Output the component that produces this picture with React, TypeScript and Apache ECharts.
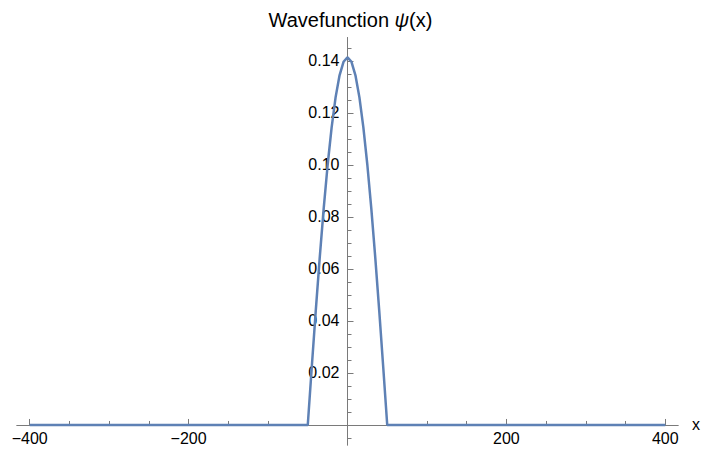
import React, { useEffect, useRef } from "react";
import * as echarts from "echarts";

const xValues = [-400, -50, -45, -40, -35, -30, -25, -20, -15, -10, -5, 0, 5, 10, 15, 20, 25, 30, 35, 40, 45, 50, 400];
const psiValues = [0, 0, 0.0221, 0.0437, 0.0642, 0.0831, 0.1, 0.1144, 0.126, 0.1345, 0.1397, 0.1414, 0.1397, 0.1345, 0.126, 0.1144, 0.1, 0.0831, 0.0642, 0.0437, 0.0221, 0, 0];

const xMajorTicks = [-400, -200, 200, 400];
const xMinorTicks = [-350, -300, -250, -150, -100, -50, 50, 100, 150, 250, 300, 350];
const yMajorTicks = [0.02, 0.04, 0.06, 0.08, 0.1, 0.12, 0.14];
const yMinorTicks = [-0.005, 0.005, 0.01, 0.015, 0.025, 0.03, 0.035, 0.045, 0.05, 0.055, 0.065, 0.07, 0.075, 0.085, 0.09, 0.095, 0.105, 0.11, 0.115, 0.125, 0.13, 0.135, 0.145];

const FONT = "'Liberation Sans', Arial, Helvetica, sans-serif";
const AXIS_COLOR = "#7a7a7a";
const LINE_COLOR = "#5E81B5";

export default function App() {
  const ref = useRef<HTMLDivElement>(null);
  useEffect(() => {
    if (!ref.current) return;
    const chart = echarts.init(ref.current, undefined, { renderer: "svg" });
    const W = 701, H = 450;
    const gLeft = 17, gRight = 23, gTop = 37.6, gBottom = 5;
    const xMin = -416, xMax = 416, yMin = -0.0077, yMax = 0.149;
    const gW = W - gLeft - gRight;
    const gH = H - gTop - gBottom;
    const zeroX = gLeft + ((0 - xMin) / (xMax - xMin)) * gW;
    const zeroY = gTop + ((yMax - 0) / (yMax - yMin)) * gH;
    const offLeft = -(zeroX - gLeft);
    const offRight = -(W - gRight - zeroX);
    const offBottom = -(H - gBottom - zeroY);
    const offTop = -(zeroY - gTop);
    const axisLine = { show: true, onZero: false, lineStyle: { color: AXIS_COLOR, width: 1 } };
    chart.setOption({
      animation: false,
      backgroundColor: "#ffffff",
      title: {
        text: "{a|Wavefunction }{b|ψ}{a|(x)}",
        left: "center",
        top: 5,
        textStyle: {
          fontWeight: "normal",
          rich: {
            a: { fontFamily: FONT, fontSize: 20, color: "#000", fontWeight: "normal" },
            b: { fontFamily: FONT, fontSize: 20, color: "#000", fontStyle: "italic", fontWeight: "normal" },
          },
        },
      },
      grid: {
        left: gLeft,
        right: gRight,
        top: gTop,
        bottom: gBottom,
        containLabel: false,
        outerBoundsMode: "none",
      },
      xAxis: [
        {
          type: "value",
          min: xMin,
          max: xMax,
          position: "bottom",
          offset: offBottom,
          axisLine,
          axisTick: { show: true, inside: true, length: 6, customValues: xMajorTicks, lineStyle: { color: AXIS_COLOR } },
          axisLabel: {
            show: true,
            customValues: xMajorTicks,
            margin: 6,
            fontFamily: FONT,
            fontSize: 16,
            color: "#000",
            formatter: (v: number) => String(v).replace("-", "\u2212"),
          },
          splitLine: { show: false },
          name: "x",
          nameLocation: "end",
          nameGap: 14,
          nameTextStyle: { fontFamily: FONT, fontSize: 16, color: "#000" },
        },
        {
          type: "value",
          min: xMin,
          max: xMax,
          position: "top",
          offset: offTop,
          axisLine,
          axisTick: { show: true, inside: false, length: 4, customValues: xMinorTicks, lineStyle: { color: AXIS_COLOR } },
          axisLabel: { show: false },
          splitLine: { show: false },
        },
      ],
      yAxis: [
        {
          type: "value",
          min: yMin,
          max: yMax,
          position: "left",
          offset: offLeft,
          axisLine,
          axisTick: { show: true, inside: true, length: 6, customValues: yMajorTicks, lineStyle: { color: AXIS_COLOR } },
          axisLabel: {
            show: true,
            customValues: yMajorTicks,
            margin: 8,
            fontFamily: FONT,
            fontSize: 16,
            color: "#000",
            formatter: (v: number) => v.toFixed(2),
          },
          splitLine: { show: false },
        },
        {
          type: "value",
          min: yMin,
          max: yMax,
          position: "right",
          offset: offRight,
          axisLine,
          axisTick: { show: true, inside: false, length: 4, customValues: yMinorTicks, lineStyle: { color: AXIS_COLOR } },
          axisLabel: { show: false },
          splitLine: { show: false },
        },
      ],
      series: [
        {
          type: "line",
          xAxisIndex: 0,
          yAxisIndex: 0,
          data: xValues.map((x, i) => [x, psiValues[i]]),
          showSymbol: false,
          symbol: "none",
          lineStyle: { color: LINE_COLOR, width: 2.5 },
          z: 5,
        },
      ],
    });
    return () => chart.dispose();
  }, []);
  return (
    <div
      ref={ref}
      style={{ position: "fixed", left: 0, top: 0, width: 701, height: 450, background: "#fff" }}
    />
  );
}
